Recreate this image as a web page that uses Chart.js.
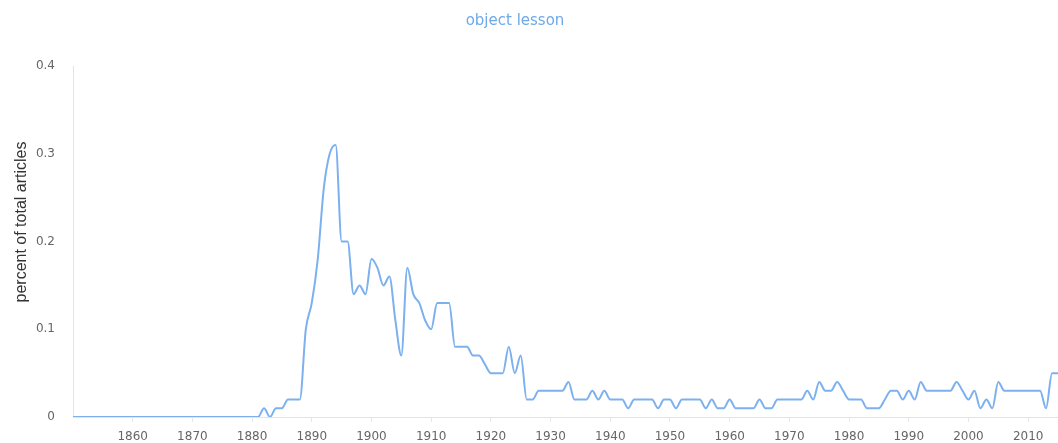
<!DOCTYPE html>
<html>
<head>
<meta charset="utf-8">
<script src="https://cdn.jsdelivr.net/npm/chart.js@4"></script>
<style>
  html, body { margin: 0; padding: 0; background: #ffffff; }
  #wrap { width: 1058px; height: 443px; }
</style>
</head>
<body>
<div id="wrap"><canvas id="c" width="1058" height="443"></canvas></div>
<script>
const chartTitle = "object lesson";
const yAxisTitle = "percent of total articles";

const years = [
  1850,1851,1852,1853,1854,1855,1856,1857,1858,1859,
  1860,1861,1862,1863,1864,1865,1866,1867,1868,1869,
  1870,1871,1872,1873,1874,1875,1876,1877,1878,1879,
  1880,1881,1882,1883,1884,1885,1886,1887,1888,1889,
  1890,1891,1892,1893,1894,1895,1896,1897,1898,1899,
  1900,1901,1902,1903,1904,1905,1906,1907,1908,1909,
  1910,1911,1912,1913,1914,1915,1916,1917,1918,1919,
  1920,1921,1922,1923,1924,1925,1926,1927,1928,1929,
  1930,1931,1932,1933,1934,1935,1936,1937,1938,1939,
  1940,1941,1942,1943,1944,1945,1946,1947,1948,1949,
  1950,1951,1952,1953,1954,1955,1956,1957,1958,1959,
  1960,1961,1962,1963,1964,1965,1966,1967,1968,1969,
  1970,1971,1972,1973,1974,1975,1976,1977,1978,1979,
  1980,1981,1982,1983,1984,1985,1986,1987,1988,1989,
  1990,1991,1992,1993,1994,1995,1996,1997,1998,1999,
  2000,2001,2002,2003,2004,2005,2006,2007,2008,2009,
  2010,2011,2012,2013,2014,2015
];

const percentValues = [
  0,0,0,0,0,0,0,0,0,0,
  0,0,0,0,0,0,0,0,0,0,
  0,0,0,0,0,0,0,0,0,0,
  0,0,0.01,0,0.01,0.01,0.02,0.02,0.02,0.10,
  0.13,0.18,0.26,0.30,0.31,0.20,0.20,0.14,0.15,0.14,
  0.18,0.17,0.15,0.16,0.11,0.07,0.17,0.14,0.13,0.11,
  0.10,0.13,0.13,0.13,0.08,0.08,0.08,0.07,0.07,0.06,
  0.05,0.05,0.05,0.08,0.05,0.07,0.02,0.02,0.03,0.03,
  0.03,0.03,0.03,0.04,0.02,0.02,0.02,0.03,0.02,0.03,
  0.02,0.02,0.02,0.01,0.02,0.02,0.02,0.02,0.01,0.02,
  0.02,0.01,0.02,0.02,0.02,0.02,0.01,0.02,0.01,0.01,
  0.02,0.01,0.01,0.01,0.01,0.02,0.01,0.01,0.02,0.02,
  0.02,0.02,0.02,0.03,0.02,0.04,0.03,0.03,0.04,0.03,
  0.02,0.02,0.02,0.01,0.01,0.01,0.02,0.03,0.03,0.02,
  0.03,0.02,0.04,0.03,0.03,0.03,0.03,0.03,0.04,0.03,
  0.02,0.03,0.01,0.02,0.01,0.04,0.03,0.03,0.03,0.03,
  0.03,0.03,0.03,0.01,0.05,0.05
];

const xTickYears = [1860,1870,1880,1890,1900,1910,1920,1930,1940,1950,1960,1970,1980,1990,2000,2010];
const yTickValues = [0, 0.1, 0.2, 0.3, 0.4];

const points = years.map((yr, i) => ({ x: yr, y: percentValues[i] }));

// Shift the title block slightly left and draw the rotated y-axis title
// centred on the canvas height, as in the reference.
const textPlacement = {
  id: 'textPlacement',
  afterLayout(chart) {
    if (chart.titleBlock) { chart.titleBlock.right -= 28; }
  },
  afterDraw(chart) {
    const ctx = chart.ctx;
    ctx.save();
    ctx.translate(22, 222);
    ctx.rotate(-Math.PI / 2);
    ctx.fillStyle = '#333';
    ctx.font = '16px "Liberation Sans", Arial, sans-serif';
    ctx.textAlign = 'center';
    ctx.textBaseline = 'middle';
    ctx.fillText(yAxisTitle, 0, 0);
    ctx.restore();
  }
};

new Chart(document.getElementById('c'), {
  type: 'line',
  data: {
    datasets: [{
      label: chartTitle,
      data: points,
      borderColor: '#7cb0ef',
      borderWidth: 2,
      pointRadius: 0,
      pointHoverRadius: 0,
      fill: false,
      cubicInterpolationMode: 'monotone'
    }]
  },
  plugins: [textPlacement],
  options: {
    responsive: false,
    animation: false,
    layout: { padding: 0 },
    plugins: {
      legend: { display: false },
      tooltip: { enabled: false },
      title: {
        display: true,
        text: chartTitle,
        color: '#6fa9e8',
        font: { family: 'DejaVu Sans', size: 15, weight: 'normal', lineHeight: 1.2 },
        padding: { top: 12, bottom: 36 }
      }
    },
    scales: {
      x: {
        type: 'linear',
        min: 1850,
        max: 2015,
        afterBuildTicks: (scale) => { scale.ticks = xTickYears.map(v => ({ value: v })); },
        afterFit: (scale) => { scale.height = 26; },
        grid: { display: true, drawOnChartArea: false, drawTicks: true, tickLength: 5, color: '#e8e8e8' },
        border: { display: true, color: '#e4e4e4', width: 1 },
        ticks: {
          autoSkip: false,
          maxRotation: 0,
          padding: 8,
          color: '#666',
          font: { family: 'DejaVu Sans', size: 12 },
          callback: (v) => String(v)
        }
      },
      y: {
        min: 0,
        max: 0.4,
        afterBuildTicks: (scale) => { scale.ticks = yTickValues.map(v => ({ value: v })); },
        afterFit: (scale) => { scale.width = 73; },
        grid: { display: false, drawTicks: false },
        border: { display: true, color: '#e4e4e4', width: 1 },
        ticks: {
          padding: 18,
          color: '#666',
          font: { family: 'DejaVu Sans', size: 12 },
          callback: (v) => (v === 0 ? '0' : Number(v).toFixed(1))
        },
        title: { display: false }
      }
    }
  }
});
</script>
</body>
</html>
